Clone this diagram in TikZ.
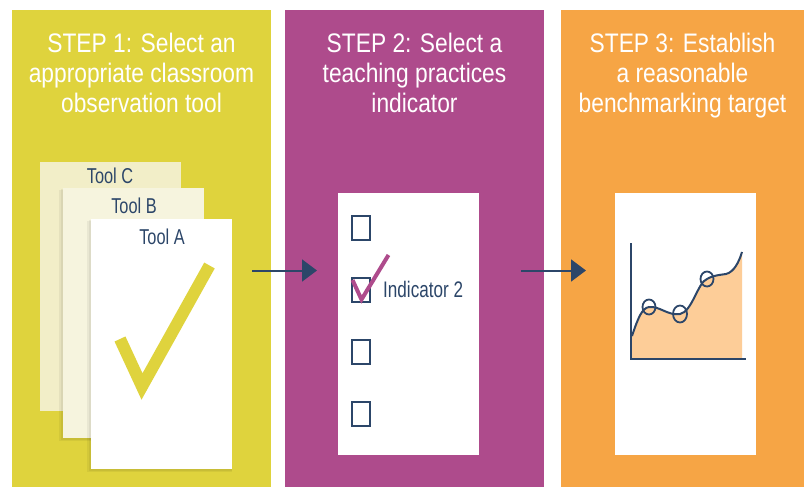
\documentclass[tikz,border=0pt]{standalone}
\usepackage{fontspec}
\setmainfont[FakeStretch=0.85]{Liberation Sans}
\newfontfamily\lblfont[FakeStretch=0.76]{Liberation Sans}
\usetikzlibrary{arrows.meta}
\definecolor{cYel}{HTML}{DFD33D}
\definecolor{cMag}{HTML}{AE4B8C}
\definecolor{cOra}{HTML}{F6A545}
\definecolor{cNavy}{HTML}{2C4669}
\definecolor{cFill}{HTML}{FDCD98}
\definecolor{cPapC}{HTML}{F2EEC8}
\definecolor{cPapB}{HTML}{F6F4DE}
\begin{document}
\begin{tikzpicture}[x=1pt,y=-1pt,
  box/.style={draw=none, inner sep=0pt, outer sep=0pt, anchor=north west},
  titletext/.style={text=white, align=center, inner sep=0pt, anchor=base,
    font=\fontsize{26.8}{30}\selectfont},
  lbl/.style={text=cNavy, inner sep=0pt, font=\lblfont\fontsize{21.5}{24}\selectfont},
  chkbox/.style={draw=cNavy, line width=2pt, minimum width=18pt, minimum height=24pt, inner sep=0pt},
  shadow/.style={fill=black, opacity=0.05},
  arrowline/.style={draw=cNavy, line width=2pt, -{Triangle[length=15pt,width=22pt]}}
]
\useasboundingbox (0,0) rectangle (804,487);
\fill[white] (0,0) rectangle (804,487);

% panels
\node[box, fill=cYel, minimum width=259pt, minimum height=477pt] (p1) at (12,10) {};
\node[box, fill=cMag, minimum width=259pt, minimum height=477pt] (p2) at (285,10) {};
\node[box, fill=cOra, minimum width=243pt, minimum height=477pt] (p3) at (561,10) {};

% titles (anchor base = baseline of last line)
\node[titletext] (t1) at (141.5,113) {STEP 1: Select an\\appropriate classroom\\observation tool};
\node[titletext] (t2) at (414.5,113) {STEP 2: Select a\\teaching practices\\indicator};
\node[titletext] (t3) at (682.5,113) {STEP 3: Establish\\a reasonable\\benchmarking target};

% step 1: papers
\node[box, fill=cPapC, minimum width=141pt, minimum height=249pt] (pc) at (40,162) {};
\fill[shadow] (59,190) rectangle (204,441);
\fill[shadow] (61,189) rectangle (204,439.5);
\node[box, fill=cPapB, minimum width=141pt, minimum height=250pt] (pb) at (63,188) {};
\fill[shadow] (87,221) rectangle (232,472);
\fill[shadow] (89,220) rectangle (232,470.5);
\node[box, fill=white, minimum width=141pt, minimum height=250pt] (pa) at (91,219) {};
\node[lbl, anchor=base] (lc) at (110,183.3) {Tool C};
\node[lbl, anchor=base] (lb) at (134,213.3) {Tool B};
\node[lbl, anchor=base] (la) at (162,244) {Tool A};
\draw[cYel, line width=12pt, line join=miter] (120,339) -- (142,386.5) -- (209.5,265.5);

% step 2: checklist
\node[box, fill=white, minimum width=141pt, minimum height=262pt] (w2) at (338,193) {};
\node[chkbox] (c1) at (360.7,228) {};
\node[chkbox] (c2) at (360.7,290) {};
\node[chkbox] (c3) at (360.7,351.5) {};
\node[chkbox] (c4) at (360.7,413.5) {};
\node[lbl, anchor=base west, font=\lblfont\fontsize{22.5}{24}\selectfont] (ind) at (383,297) {Indicator 2};
\draw[cMag, line width=4pt, line join=miter] (352.5,280) -- (361.5,299.5) -- (388.5,255);

% step 3: chart
\node[box, fill=white, minimum width=141pt, minimum height=262pt] (w3) at (615,193) {};
\fill[cFill] (632,336) .. controls (638,318) and (642,308) .. (649,307)
  .. controls (660,306) and (668,316) .. (680,314)
  .. controls (692,312) and (698,282) .. (707,279)
  .. controls (714,275) and (720,275) .. (726,274)
  .. controls (734,272) and (739,262) .. (742,252)
  -- (742,359) -- (632,359) -- cycle;
\draw[cNavy, line width=2pt] (632,336) .. controls (638,318) and (642,308) .. (649,307)
  .. controls (660,306) and (668,316) .. (680,314)
  .. controls (692,312) and (698,282) .. (707,279)
  .. controls (714,275) and (720,275) .. (726,274)
  .. controls (734,272) and (739,262) .. (742,252);
\draw[cNavy, line width=2pt] (631,243) -- (631,359) -- (746,359);
\draw[cNavy, line width=1.8pt] (649,307) ellipse [x radius=6.5, y radius=7.5];
\draw[cNavy, line width=1.8pt] (680,314) ellipse [x radius=7, y radius=8.5];
\draw[cNavy, line width=1.8pt] (707,279) ellipse [x radius=6.5, y radius=7.5];

% arrows
\coordinate (a1s) at (252,270.5);
\coordinate (a1e) at (317,270.5);
\coordinate (a2s) at (521,270.5);
\coordinate (a2e) at (586,270.5);
\draw[arrowline] (a1s) -- (a1e);
\draw[arrowline] (a2s) -- (a2e);
\end{tikzpicture}
\end{document}
